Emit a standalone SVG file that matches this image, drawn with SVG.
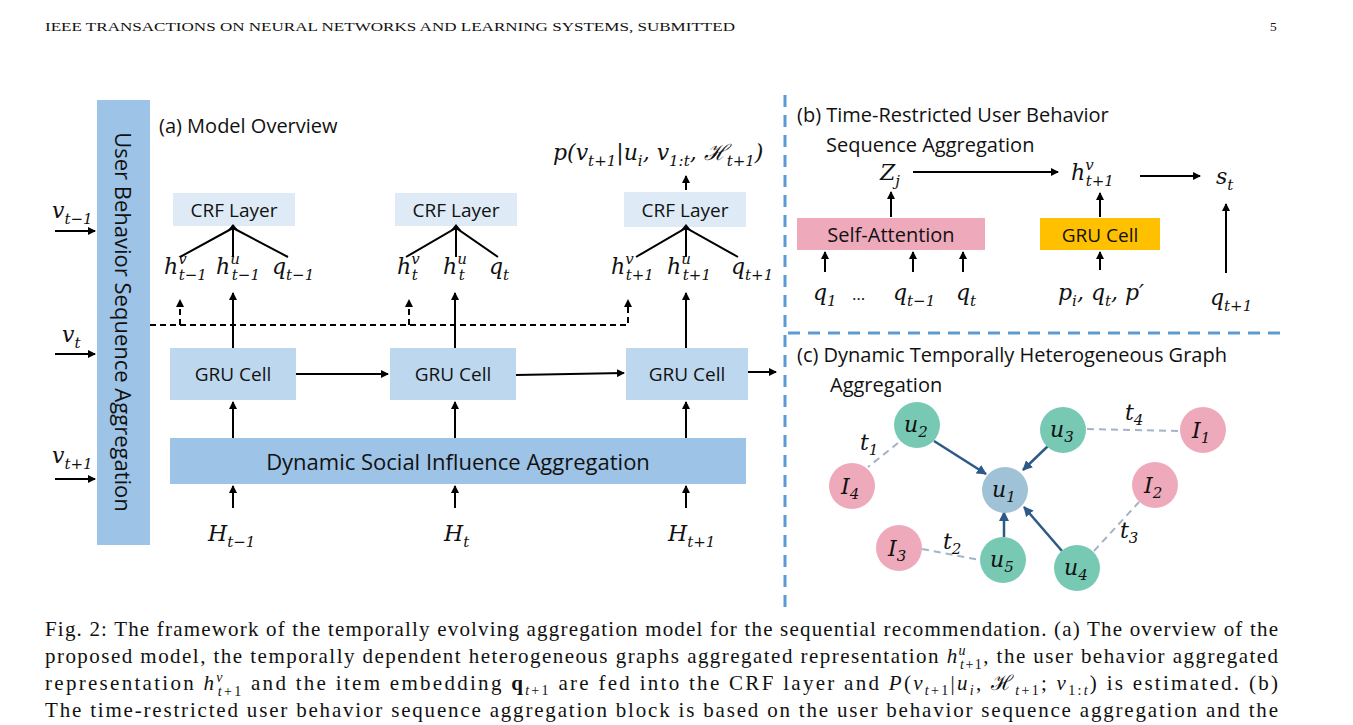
<svg xmlns="http://www.w3.org/2000/svg" width="1353" height="725" viewBox="0 0 1353 725">
<defs>
<marker id="ah" markerWidth="8" markerHeight="8" refX="7" refY="4" orient="auto" markerUnits="userSpaceOnUse"><path d="M0,0 L8,4 L0,8 z" fill="#000"/></marker>
<marker id="ab" markerWidth="10" markerHeight="10" refX="9" refY="5" orient="auto" markerUnits="userSpaceOnUse"><path d="M0,0 L10,5 L0,10 z" fill="#2e5a87"/></marker>
</defs>
<style>
.s{font-family:"Open Sans","Liberation Sans",sans-serif;fill:#111}
.m{font-family:"DejaVu Serif","Liberation Serif",serif;font-style:italic;fill:#111;font-size:22px}
.m .sub{font-size:15px}
.cap{font-family:"Liberation Serif",serif;font-size:21px;fill:#111}
.ln{stroke:#000;stroke-width:2;fill:none}
.ar{stroke:#000;stroke-width:2;fill:none;marker-end:url(#ah)}
.da{stroke:#000;stroke-width:2;fill:none;stroke-dasharray:6,4}
.bd{stroke:#5b9bd5;stroke-width:3;fill:none;stroke-dasharray:12,8}
.ba{stroke:#2e5a87;stroke-width:2.5;fill:none;marker-end:url(#ab)}
.gd{stroke:#a3b4c8;stroke-width:2;fill:none;stroke-dasharray:7,5}
.g{fill:#77c9b4}.p{fill:#eeaabb}.bl{fill:#9fc2d6}
</style>
<rect width="1353" height="725" fill="#fff"/>
<text x="45" y="31" font-family="Liberation Serif,serif" font-size="13.5" fill="#111" textLength="690" lengthAdjust="spacingAndGlyphs">IEEE TRANSACTIONS ON NEURAL NETWORKS AND LEARNING SYSTEMS, SUBMITTED</text>
<text x="1270" y="31" font-family="Liberation Serif,serif" font-size="13.5" fill="#111">5</text>

<g id="ubsa"><rect x="97" y="100" width="53" height="445" fill="#9dc3e6"/>
<text class="s" font-size="22" transform="translate(115,322) rotate(90)" text-anchor="middle">User Behavior Sequence Aggregation</text></g>
<text class="s" x="159" y="133" font-size="20">(a) Model Overview</text>

<g id="crf1"><rect x="173" y="193" width="122" height="33" fill="#deebf7"/><text class="s" x="234" y="217" font-size="19" text-anchor="middle">CRF Layer</text></g>
<g id="crf2"><rect x="395" y="193" width="122" height="33" fill="#deebf7"/><text class="s" x="456" y="217" font-size="19" text-anchor="middle">CRF Layer</text></g>
<g id="crf3"><rect x="624" y="192" width="122" height="35" fill="#deebf7"/><text class="s" x="685" y="217" font-size="19" text-anchor="middle">CRF Layer</text></g>

<g id="gru1"><rect x="170" y="348" width="126" height="52" fill="#bdd7ee"/><text class="s" x="233" y="381" font-size="19" text-anchor="middle">GRU Cell</text></g>
<g id="gru2"><rect x="390" y="348" width="126" height="52" fill="#bdd7ee"/><text class="s" x="453" y="381" font-size="19" text-anchor="middle">GRU Cell</text></g>
<g id="gru3"><rect x="626" y="348" width="122" height="52" fill="#bdd7ee"/><text class="s" x="687" y="381" font-size="19" text-anchor="middle">GRU Cell</text></g>
<g id="dsia"><rect x="170" y="438" width="576" height="46" fill="#9dc3e6"/><text class="s" x="458" y="470" font-size="22" text-anchor="middle">Dynamic Social Influence Aggregation</text></g>

<g id="mathlabels">
<text class="m" x="52" y="218">v<tspan class="sub" dy="6">t−1</tspan></text>
<text class="m" x="62" y="342">v<tspan class="sub" dy="6">t</tspan></text>
<text class="m" x="52" y="463">v<tspan class="sub" dy="6">t+1</tspan></text>
<text class="m" x="164" y="274">h<tspan class="sub" dy="-10">v</tspan><tspan class="sub" dx="-8" dy="16">t−1</tspan></text>
<text class="m" x="216" y="274">h<tspan class="sub" dy="-10">u</tspan><tspan class="sub" dx="-8" dy="16">t−1</tspan></text>
<text class="m" x="272" y="274">q<tspan class="sub" dy="6">t−1</tspan></text>
<text class="m" x="397" y="274">h<tspan class="sub" dy="-10">v</tspan><tspan class="sub" dx="-8" dy="16">t</tspan></text>
<text class="m" x="443" y="274">h<tspan class="sub" dy="-10">u</tspan><tspan class="sub" dx="-8" dy="16">t</tspan></text>
<text class="m" x="489" y="274">q<tspan class="sub" dy="6">t</tspan></text>
<text class="m" x="611" y="274">h<tspan class="sub" dy="-10">v</tspan><tspan class="sub" dx="-8" dy="16">t+1</tspan></text>
<text class="m" x="667" y="274">h<tspan class="sub" dy="-10">u</tspan><tspan class="sub" dx="-8" dy="16">t+1</tspan></text>
<text class="m" x="731" y="274">q<tspan class="sub" dy="6">t+1</tspan></text>
<text class="m" x="553" y="160">p(v<tspan class="sub" dy="6">t+1</tspan><tspan dy="-6">|u</tspan><tspan class="sub" dy="6">i</tspan><tspan dy="-6">, v</tspan><tspan class="sub" dy="6">1:t</tspan><tspan dy="-6">, ℋ</tspan><tspan class="sub" dy="6">t+1</tspan><tspan dy="-6">)</tspan></text>
<text class="m" x="208" y="541">H<tspan class="sub" dy="6">t−1</tspan></text>
<text class="m" x="444" y="541">H<tspan class="sub" dy="6">t</tspan></text>
<text class="m" x="668" y="541">H<tspan class="sub" dy="6">t+1</tspan></text>
</g>

<g id="connectors">
<line class="ar" x1="55" y1="231" x2="95" y2="231"/>
<line class="ar" x1="55" y1="354" x2="95" y2="354"/>
<line class="ar" x1="55" y1="479" x2="95" y2="479"/>
<path class="ln" d="M180,257 L233,228 L288,257 M233,257 L233,228"/>
<path class="ln" d="M406,257 L456,228 L498,257 M456,257 L456,228"/>
<path class="ln" d="M636,257 L686,228 L738,257 M686,257 L686,228"/>
<path d="M228,230 L233,224 L238,230z M451,230 L456,224 L461,230z M681,230 L686,224 L691,230z"/>
<line class="ar" x1="686" y1="190" x2="686" y2="176"/>
<path class="da" d="M150,325 L628,325 L628,306"/>
<line class="da" x1="180" y1="325" x2="180" y2="306"/>
<line class="da" x1="409" y1="325" x2="409" y2="306"/>
<path d="M624,307 L628,299 L632,307z M176,307 L180,299 L184,307z M405,307 L409,299 L413,307z"/>
<line class="ar" x1="233" y1="348" x2="233" y2="293"/>
<line class="ar" x1="455" y1="348" x2="455" y2="293"/>
<line class="ar" x1="686" y1="348" x2="686" y2="293"/>
<line class="ar" x1="296" y1="374" x2="388" y2="374"/>
<line class="ar" x1="516" y1="375" x2="624" y2="373"/>
<line class="ar" x1="748" y1="372" x2="776" y2="372"/>
<line class="ar" x1="233" y1="438" x2="233" y2="402"/>
<line class="ar" x1="455" y1="438" x2="455" y2="402"/>
<line class="ar" x1="686" y1="438" x2="686" y2="402"/>
<line class="ar" x1="233" y1="508" x2="233" y2="486"/>
<line class="ar" x1="455" y1="508" x2="455" y2="486"/>
<line class="ar" x1="686" y1="508" x2="686" y2="486"/>
<line class="bd" x1="785" y1="95" x2="785" y2="612"/>
<line class="bd" x1="788" y1="333" x2="1280" y2="333"/>
</g>

<text class="s" x="797" y="122" font-size="20">(b) Time-Restricted User Behavior</text>
<text class="s" x="826" y="152" font-size="20">Sequence Aggregation</text>
<g id="selfatt"><rect x="797" y="218" width="188" height="32" fill="#eeaabb"/><text class="s" x="891" y="242" font-size="20" text-anchor="middle">Self-Attention</text></g>
<g id="grub"><rect x="1040" y="218" width="120" height="32" fill="#ffc000"/><text class="s" x="1100" y="242" font-size="19" text-anchor="middle">GRU Cell</text></g>
<g>
<text class="m" x="880" y="180">Z<tspan class="sub" dy="6">j</tspan></text>
<text class="m" x="1071" y="180">h<tspan class="sub" dy="-10">v</tspan><tspan class="sub" dx="-8" dy="16">t+1</tspan></text>
<text class="m" x="1216" y="184">s<tspan class="sub" dy="6">t</tspan></text>
<text class="m" x="813" y="300">q<tspan class="sub" dy="6">1</tspan></text>
<text class="s" x="852" y="300" font-size="17">…</text>
<text class="m" x="893" y="300">q<tspan class="sub" dy="6">t−1</tspan></text>
<text class="m" x="956" y="300">q<tspan class="sub" dy="6">t</tspan></text>
<text class="m" x="1058" y="300">p<tspan class="sub" dy="6">i</tspan><tspan dy="-6">, q</tspan><tspan class="sub" dy="6">t</tspan><tspan dy="-6">, p′</tspan></text>
<text class="m" x="1210" y="305">q<tspan class="sub" dy="6">t+1</tspan></text>
</g>
<g id="connectors-b">
<line class="ar" x1="913" y1="172" x2="1058" y2="172"/>
<line class="ar" x1="1140" y1="176" x2="1200" y2="176"/>
<line class="ar" x1="891" y1="217" x2="891" y2="192"/>
<line class="ar" x1="1100" y1="217" x2="1100" y2="193"/>
<line class="ar" x1="1100" y1="270" x2="1100" y2="252"/>
<line class="ar" x1="825" y1="272" x2="825" y2="252"/>
<line class="ar" x1="913" y1="272" x2="913" y2="252"/>
<line class="ar" x1="963" y1="272" x2="963" y2="252"/>
<line class="ar" x1="1226" y1="273" x2="1226" y2="204"/>
</g>

<text class="s" x="797" y="362" font-size="20">(c) Dynamic Temporally Heterogeneous Graph</text>
<text class="s" x="830" y="392" font-size="20">Aggregation</text>
<g id="connectors-c">
<line class="gd" x1="898" y1="443" x2="868" y2="467"/>
<line class="gd" x1="1087" y1="429" x2="1180" y2="431"/>
<line class="gd" x1="922" y1="549" x2="980" y2="560"/>
<line class="gd" x1="1094" y1="551" x2="1139" y2="502"/>
<line class="ba" x1="934" y1="441" x2="986" y2="474"/>
<line class="ba" x1="1048" y1="446" x2="1023" y2="470"/>
<line class="ba" x1="1004" y1="537" x2="1004" y2="512"/>
<line class="ba" x1="1062" y1="551" x2="1024" y2="507"/>
</g>
<g id="u2"><circle class="g" cx="917" cy="425" r="23"/><text class="m" x="904" y="432">u<tspan class="sub" dy="5">2</tspan></text></g>
<g id="u3"><circle class="g" cx="1063" cy="430" r="23"/><text class="m" x="1050" y="437">u<tspan class="sub" dy="5">3</tspan></text></g>
<g id="I1"><circle class="p" cx="1203" cy="430" r="23"/><text class="m" x="1192" y="438">I<tspan class="sub" dy="5">1</tspan></text></g>
<g id="I4"><circle class="p" cx="852" cy="486" r="23"/><text class="m" x="841" y="494">I<tspan class="sub" dy="5">4</tspan></text></g>
<g id="u1"><circle class="bl" cx="1005" cy="490" r="23"/><text class="m" x="992" y="497">u<tspan class="sub" dy="5">1</tspan></text></g>
<g id="I2"><circle class="p" cx="1155" cy="485" r="23"/><text class="m" x="1144" y="493">I<tspan class="sub" dy="5">2</tspan></text></g>
<g id="I3"><circle class="p" cx="899" cy="548" r="23"/><text class="m" x="888" y="556">I<tspan class="sub" dy="5">3</tspan></text></g>
<g id="u5"><circle class="g" cx="1003" cy="560" r="23"/><text class="m" x="990" y="567">u<tspan class="sub" dy="5">5</tspan></text></g>
<g id="u4"><circle class="g" cx="1077" cy="568" r="23"/><text class="m" x="1064" y="575">u<tspan class="sub" dy="5">4</tspan></text></g>
<g>
<text class="m" x="860" y="450">t<tspan class="sub" dy="5">1</tspan></text>
<text class="m" x="943" y="549">t<tspan class="sub" dy="5">2</tspan></text>
<text class="m" x="1120" y="538">t<tspan class="sub" dy="5">3</tspan></text>
<text class="m" x="1125" y="420">t<tspan class="sub" dy="5">4</tspan></text>
</g>

<text class="cap" x="45" y="636" textLength="1233" lengthAdjust="spacing">Fig. 2: The framework of the temporally evolving aggregation model for the sequential recommendation. (a) The overview of the</text>
<text class="cap" x="45" y="663" textLength="1233" lengthAdjust="spacing">proposed model, the temporally dependent heterogeneous graphs aggregated representation <tspan font-style="italic">h</tspan><tspan font-style="italic" font-size="14" dy="-8">u</tspan><tspan font-style="italic" font-size="14" dx="-7" dy="14">t</tspan><tspan font-size="14">+1</tspan><tspan dy="-6">, the user behavior aggregated</tspan></text>
<text class="cap" x="45" y="690" textLength="1233" lengthAdjust="spacing">representation <tspan font-style="italic">h</tspan><tspan font-style="italic" font-size="14" dy="-8">v</tspan><tspan font-style="italic" font-size="14" dx="-7" dy="14">t</tspan><tspan font-size="14">+1</tspan><tspan dy="-6"> and the item embedding </tspan><tspan font-weight="bold">q</tspan><tspan font-size="14" font-style="italic" dy="5">t</tspan><tspan font-size="14">+1</tspan><tspan dy="-5"> are fed into the CRF layer and </tspan><tspan font-style="italic">P</tspan>(<tspan font-style="italic">v</tspan><tspan font-size="14" font-style="italic" dy="5">t</tspan><tspan font-size="14">+1</tspan><tspan dy="-5">|</tspan><tspan font-style="italic">u</tspan><tspan font-size="14" font-style="italic" dy="5">i</tspan><tspan dy="-5">, ℋ</tspan><tspan font-size="14" font-style="italic" dy="5">t</tspan><tspan font-size="14">+1</tspan><tspan dy="-5">; </tspan><tspan font-style="italic">v</tspan><tspan font-size="14" dy="5">1:<tspan font-style="italic">t</tspan></tspan><tspan dy="-5">) is estimated. (b)</tspan></text>
<text class="cap" x="45" y="717" textLength="1233" lengthAdjust="spacing">The time-restricted user behavior sequence aggregation block is based on the user behavior sequence aggregation and the</text>
</svg>
